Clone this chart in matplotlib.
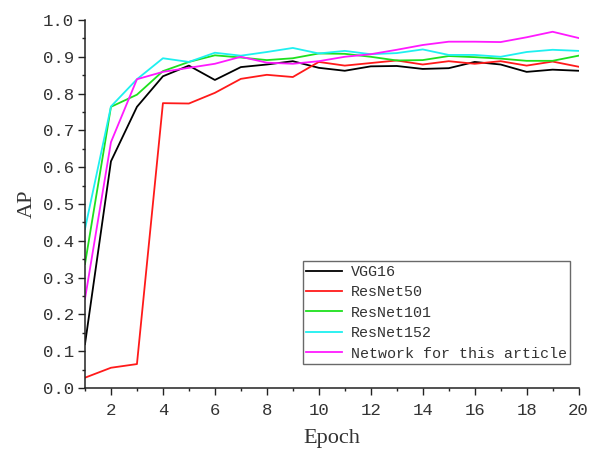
import matplotlib
matplotlib.use("Agg")
import matplotlib.pyplot as plt
from matplotlib.ticker import MultipleLocator, FormatStrFormatter

epochs = list(range(1, 21))
vgg16 = [0.119, 0.616, 0.764, 0.847, 0.876, 0.837, 0.872, 0.879, 0.888, 0.870,
         0.862, 0.874, 0.875, 0.867, 0.869, 0.886, 0.879, 0.859, 0.865, 0.862]
resnet50 = [0.028, 0.055, 0.065, 0.774, 0.773, 0.802, 0.840, 0.851, 0.845, 0.886,
            0.876, 0.883, 0.890, 0.879, 0.888, 0.881, 0.888, 0.876, 0.887, 0.873]
resnet101 = [0.337, 0.764, 0.797, 0.861, 0.886, 0.904, 0.898, 0.891, 0.896, 0.909,
             0.908, 0.900, 0.890, 0.891, 0.902, 0.899, 0.895, 0.889, 0.889, 0.903]
resnet152 = [0.432, 0.765, 0.839, 0.896, 0.886, 0.911, 0.903, 0.913, 0.924, 0.909,
             0.916, 0.907, 0.910, 0.920, 0.905, 0.905, 0.900, 0.913, 0.919, 0.916]
ours = [0.242, 0.668, 0.839, 0.859, 0.870, 0.881, 0.900, 0.884, 0.881, 0.888,
        0.900, 0.907, 0.919, 0.932, 0.941, 0.941, 0.940, 0.953, 0.968, 0.951]

series = [
    ("VGG16", vgg16, "#000000"),
    ("ResNet50", resnet50, "#ff1a1a"),
    ("ResNet101", resnet101, "#1ee01e"),
    ("ResNet152", resnet152, "#1ef0f0"),
    ("Network for this article", ours, "#ff1aff"),
]

fig = plt.figure(figsize=(5.91, 4.5), dpi=100)
ax = fig.add_axes([0.1438, 0.1378, 0.979 - 0.1438, 0.9556 - 0.1378])

for name, vals, col in series:
    ax.plot(epochs, vals, color=col, lw=1.3, label=name)

ax.set_xlim(1, 20)
ax.set_ylim(0, 1.0)
ax.spines["top"].set_visible(False)
ax.spines["right"].set_visible(False)
for s in ("left", "bottom"):
    ax.spines[s].set_linewidth(1.1)
    ax.spines[s].set_color("#222222")

ax.xaxis.set_major_locator(MultipleLocator(2))
ax.xaxis.set_minor_locator(MultipleLocator(1))
ax.yaxis.set_major_locator(MultipleLocator(0.1))
ax.yaxis.set_minor_locator(MultipleLocator(0.05))
ax.yaxis.set_major_formatter(FormatStrFormatter("%.1f"))

ax.tick_params(axis="both", which="major", direction="out", length=5, width=1.0,
               color="#222222", labelcolor="#333333")
ax.tick_params(axis="both", which="minor", direction="out", length=2.5, width=1.0,
               color="#222222")
ax.tick_params(axis="x", which="major", pad=6)
ax.tick_params(axis="y", which="major", pad=3)
for lab in ax.get_xticklabels() + ax.get_yticklabels():
    lab.set_fontfamily("Liberation Mono")
    lab.set_fontsize(12.5)

ax.set_xlabel("Epoch", fontfamily="Liberation Serif", fontsize=16, color="#333333", labelpad=8)
ax.set_ylabel("AP", fontfamily="Liberation Serif", fontsize=16, color="#333333", labelpad=4)

leg = ax.legend(loc="upper left", bbox_to_anchor=(0.441, 0.345), borderaxespad=0,
                prop={"family": "Liberation Mono", "size": 10.8},
                frameon=True, fancybox=False, borderpad=0.25, labelspacing=0.43,
                handlelength=2.4, handletextpad=0.55)
leg.get_frame().set_edgecolor("#444444")
leg.get_frame().set_linewidth(1.0)
for t in leg.get_texts():
    t.set_color("#333333")

fig.savefig("out.png", dpi=100)
